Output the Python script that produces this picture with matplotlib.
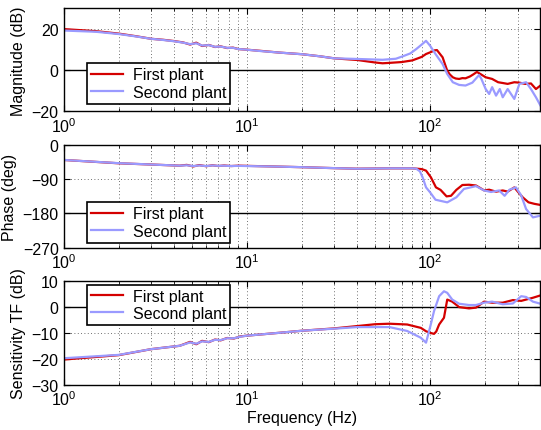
import matplotlib
matplotlib.use('Agg')
import matplotlib.pyplot as plt
import numpy as np

plt.rcParams['font.family'] = ['Liberation Sans', 'DejaVu Sans']
plt.rcParams['font.size'] = 11.5
plt.rcParams['mathtext.fontset'] = 'custom'
plt.rcParams['mathtext.rm'] = 'Liberation Sans'

RED = '#d40000'
BLUE = '#9a9aff'

# Magnitude (dB)
mag_red_f = [1, 1.5, 2, 2.5, 3, 3.5, 4, 4.5, 4.9, 5.3, 5.7, 6.2, 6.7, 7.2, 7.8, 8.4, 9, 10,
             12, 15, 20, 25, 30, 40, 50, 55, 60, 70, 80, 90, 95, 100, 106, 109, 113, 117,
             121, 124, 128, 133, 138, 144, 150, 156, 165, 172, 180, 188, 201, 218, 235,
             250, 265, 288, 307, 330, 355, 378, 400]
mag_red = [20.0, 19.0, 17.8, 16.5, 15.3, 14.8, 14.2, 13.5, 12.5, 13.4, 11.8, 12.3, 11.3, 11.6,
           10.8, 11.0, 10.3, 10.0, 9.4, 8.6, 7.8, 6.8, 5.8, 5.0, 3.8, 3.4, 3.6, 4.0, 4.8,
           6.5, 7.9, 8.7, 9.7, 9.8, 8.0, 6.3, 2.5, -0.2, -2.0, -3.4, -4.0, -4.2, -3.8, -3.9,
           -3.0, -2.0, -0.8, -1.8, -3.4, -4.2, -5.8, -6.2, -6.6, -5.8, -6.0, -6.6, -6.4,
           -9.1, -7.4]
mag_blue_f = [1, 1.5, 2, 2.5, 3, 3.5, 4, 4.5, 4.9, 5.3, 5.7, 6.2, 6.7, 7.2, 7.8, 8.4, 9, 10,
              12, 15, 20, 25, 30, 40, 55, 65, 71, 78, 84, 90, 95, 100, 107, 117, 124, 133,
              144, 156, 170, 185, 190, 201, 210, 218, 229, 240, 249, 265, 288, 307, 334,
              355, 378, 400]
mag_blue = [19.3, 18.7, 17.6, 16.4, 15.3, 14.7, 14.1, 13.4, 12.7, 13.1, 12.0, 12.2, 11.4, 11.5,
            10.9, 10.9, 10.3, 10.0, 9.3, 8.6, 7.8, 6.8, 5.8, 5.5, 5.1, 5.6, 6.8, 8.2, 10.3,
            12.5, 14.3, 11.9, 7.9, 3.0, -1.8, -5.8, -7.1, -7.4, -6.0, -2.3, -4.0, -9.1,
            -11.5, -8.2, -12.3, -9.1, -13.1, -9.1, -13.9, -6.6, -5.8, -9.1, -13.1, -17.1]

# Phase (deg)
ph_red_f = [1, 2, 3, 4.3, 4.7, 5.1, 5.5, 6, 6.5, 7, 7.5, 8.2, 9, 10, 15, 20, 30, 40, 60,
            80, 90, 95, 101, 107.6, 114, 123, 130, 139, 150, 163, 178, 197, 210, 229, 249,
            265, 288, 307, 320, 344, 370, 400]
ph_red = [-40, -48.8, -52, -55, -53, -57, -53.5, -56.5, -54, -56, -54.5, -56, -55, -55.5,
          -57.5, -59, -61.5, -63, -62, -62, -64, -68, -85.6, -111.9, -118.5, -135.5, -134,
          -118.5, -105.7, -105, -107, -119.8, -118, -123.1, -120, -123, -112, -128, -138,
          -151, -155, -158]
ph_blue_f = [1, 2, 3, 4.3, 4.7, 5.1, 5.5, 6, 6.5, 7, 7.5, 8.2, 9, 10, 15, 20, 30, 40, 60,
             80, 84, 88, 91, 95, 100, 107, 124, 139, 153, 178, 197, 215, 238, 255, 271, 294,
             314, 334, 364, 400]
ph_blue = [-40, -48.5, -52, -55, -54, -56, -54.5, -56, -54.5, -55.5, -55, -56, -55.5, -56,
           -57.5, -59, -61.5, -63, -62, -62, -63, -70, -85.6, -111.9, -125, -144.3, -151.2,
           -138, -116, -108.6, -120, -124, -120, -134, -118, -111.9, -133, -168.7, -190.6,
           -186]

# Sensitivity TF (dB)
s_red_f = [1, 2, 3, 4.3, 4.9, 5.3, 5.7, 6.2, 6.7, 7.2, 7.8, 8.5, 9.2, 10, 15, 20, 30, 40,
           50, 60, 75, 89, 95, 100, 105, 108, 112, 119, 124, 132, 144, 163, 178, 197, 218,
           249, 283, 314, 334, 364, 400]
s_red = [-20.3, -18.6, -16.3, -15.0, -13.5, -14.4, -13.1, -13.6, -12.6, -12.9, -12.0, -12.2,
         -11.4, -11.1, -10.0, -9.2, -8.3, -7.4, -6.7, -6.5, -6.8, -8.1, -9.4, -10.0, -10.4,
         -9.5, -6.8, -4.2, 2.8, 2.0, -0.1, -0.6, -0.3, 2.0, 1.6, 1.6, 2.6, 2.3, 2.8, 3.5,
         4.4]
s_blue_f = [1, 2, 3, 4.3, 4.9, 5.3, 5.7, 6.2, 6.7, 7.2, 7.8, 8.5, 9.2, 10, 15, 20, 30, 40,
            60, 75, 89, 95, 100, 105, 112, 119, 124, 132, 144, 163, 178, 197, 218, 249, 283,
            314, 334, 364, 400]
s_blue = [-19.8, -18.5, -16.3, -15.0, -13.7, -14.2, -13.3, -13.5, -12.7, -12.8, -12.1, -12.1,
          -11.5, -11.1, -10.0, -9.2, -8.4, -7.8, -7.8, -9.3, -11.9, -13.8, -7.8, -1.7, 4.1,
          6.0, 5.4, 2.8, 1.2, 0.7, 0.7, 1.6, 2.0, 1.0, 1.3, 4.1, 3.8, 2.0, 1.2]

fig = plt.figure(figsize=(5.41, 4.31), dpi=100)
left, width = 0.1175, 0.8815
ax1 = fig.add_axes([left, 0.739, width, 0.239])
ax2 = fig.add_axes([left, 0.423, width, 0.239])
ax3 = fig.add_axes([left, 0.105, width, 0.241])

panels = [
    (ax1, mag_red_f, mag_red, mag_blue_f, mag_blue, 'Magnitude (dB)', (-20, 30), [-20, 0, 20], 0),
    (ax2, ph_red_f, ph_red, ph_blue_f, ph_blue, 'Phase (deg)', (-270, 0), [-270, -180, -90, 0], -180),
    (ax3, s_red_f, s_red, s_blue_f, s_blue, 'Sensitivity TF (dB)', (-30, 10), [-30, -20, -10, 0, 10], 0),
]

gridstyle = dict(linestyle=(0, (1, 3)), color='0.25', lw=0.6)

for ax, fr, yr, fb, yb, ylab, ylim, yticks, href in panels:
    l1, = ax.semilogx(fr, yr, color=RED, lw=1.6)
    l2, = ax.semilogx(fb, yb, color=BLUE, lw=1.6)
    ax.axhline(href, color='black', lw=1, zorder=1)
    ax.set_xlim(1, 400)
    ax.set_ylim(*ylim)
    ax.set_yticks(yticks)
    ax.set_ylabel(ylab)
    ax.grid(True, which='major', **gridstyle)
    ax.grid(True, which='minor', axis='x', **gridstyle)
    ax.tick_params(which='both', direction='in', top=True, right=True)
    ax.tick_params(which='major', length=4)
    ax.tick_params(which='minor', length=2)
    for sp in ax.spines.values():
        sp.set_linewidth(1.0)
    ax.set_axisbelow(True)
    if ax is ax3:
        loc, anchor = 'upper left', (0.05, 0.965)
    elif ax is ax1:
        loc, anchor = 'lower left', (0.05, 0.075)
    else:
        loc, anchor = 'lower left', (0.05, 0.05)
    leg = ax.legend([l1, l2], ['First plant', 'Second plant'], loc=loc,
                    bbox_to_anchor=anchor, fancybox=False, framealpha=1,
                    edgecolor='black', borderpad=0.25, labelspacing=0.15,
                    handlelength=2.0, handletextpad=0.6, borderaxespad=0)
    leg.get_frame().set_linewidth(1.2)

ax3.set_xlabel('Frequency (Hz)', labelpad=1)

fig.savefig('out.png', dpi=100)
